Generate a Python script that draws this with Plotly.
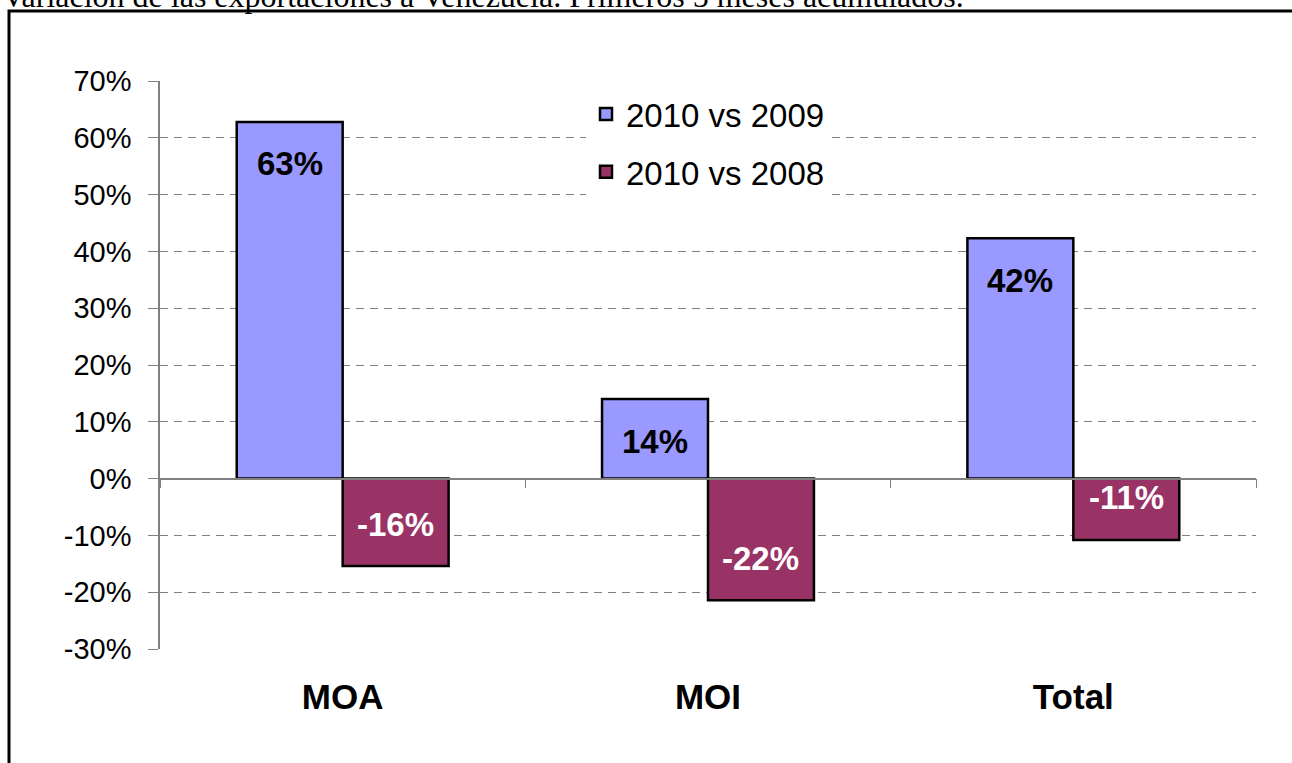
import plotly.graph_objects as go

categories = ["MOA", "MOI", "Total"]
series_names = ["2010 vs 2009", "2010 vs 2008"]
vals_2009 = [0.628, 0.140, 0.423]
vals_2008 = [-0.154, -0.214, -0.108]
label_2009 = ["63%", "14%", "42%"]
label_2008 = ["-16%", "-22%", "-11%"]
y_ticks = [-0.3, -0.2, -0.1, 0, 0.1, 0.2, 0.3, 0.4, 0.5, 0.6, 0.7]
y_tick_text = ["-30%", "-20%", "-10%", "0%", "10%", "20%", "30%", "40%", "50%", "60%", "70%"]
title_text = "Variación de las exportaciones a Venezuela. Primeros 5 meses acumulados."

BLUE = "#9999FF"
RED = "#993366"
FONT = "Liberation Sans, Arial, sans-serif"
BARGAP = 0.42

W, H = 1292, 763

fig = go.Figure()
fig.add_trace(go.Bar(x=categories, y=vals_2009, name=series_names[0],
                     marker=dict(color=BLUE, line=dict(color="black", width=2.5)),
                     legendgroup="a"))
fig.add_trace(go.Bar(x=categories, y=vals_2008, name=series_names[1],
                     marker=dict(color=RED, line=dict(color="black", width=2.5)),
                     legendgroup="b"))
# invisible helper trace to draw the zero-level category axis with boundary ticks
fig.add_trace(go.Scatter(x=categories, y=[0, 0, 0], xaxis="x2", mode="markers",
                         marker=dict(opacity=0), showlegend=False, hoverinfo="skip"))

off = (1 - BARGAP) / 4
annotations = []
for i in range(len(categories)):
    annotations.append(dict(x=i - off, y=vals_2009[i], xref="x", yref="y",
                            text="<b>%s</b>" % label_2009[i], showarrow=False,
                            yshift=-42, font=dict(family=FONT, size=33, color="black")))
    annotations.append(dict(x=i + off, y=vals_2008[i], xref="x", yref="y",
                            text="<b>%s</b>" % label_2008[i], showarrow=False,
                            yshift=42, font=dict(family=FONT, size=33, color="white")))

plot_l, plot_r, plot_t, plot_b = 160, 1256, 81, 649
pw, ph = plot_r - plot_l, plot_b - plot_t

def px_x(p):
    return (p - plot_l) / pw

def px_y(p):
    return 1 - (p - plot_t) / ph

annotations.append(dict(x=px_x(0), y=px_y(16), xref="paper", yref="paper",
                        xanchor="left", yanchor="bottom", showarrow=False,
                        text=title_text,
                        font=dict(family="Liberation Serif, Times New Roman, serif", size=32, color="black")))

shapes = [dict(type="rect", xref="paper", yref="paper",
               x0=px_x(9), x1=px_x(1320), y0=px_y(820), y1=px_y(11),
               line=dict(color="black", width=3), layer="below")]

fig.update_layout(
    width=W, height=H,
    margin=dict(l=plot_l, r=W - plot_r, t=plot_t, b=H - plot_b),
    paper_bgcolor="white", plot_bgcolor="white",
    barmode="group", bargap=BARGAP, bargroupgap=0,
    font=dict(family=FONT, color="black"),
    showlegend=True,
    legend=dict(x=px_x(586), y=px_y(86), xanchor="left", yanchor="top",
                bgcolor="white", font=dict(family=FONT, size=33, color="black"),
                tracegroupgap=12, itemwidth=30),
    xaxis=dict(type="category", categoryorder="array", categoryarray=categories,
               range=[-0.5, 2.5], showgrid=False, showline=False, ticks="",
               ticklabelstandoff=24,
               tickfont=dict(family=FONT, size=35, color="black"),
               tickprefix="<b>", ticksuffix="</b>"),
    xaxis2=dict(type="category", categoryorder="array", categoryarray=categories,
                range=[-0.5, 2.5], overlaying="x", anchor="free", position=0.3,
                side="bottom", showline=True, linecolor="#808080", linewidth=1.5,
                ticks="outside", tickson="boundaries", ticklen=9, tickcolor="#808080",
                showticklabels=False, showgrid=False),
    yaxis=dict(range=[-0.3, 0.7], tickvals=y_ticks, ticktext=y_tick_text,
               showgrid=True, gridcolor="#808080", griddash="8px,6px", gridwidth=1,
               showline=True, linecolor="#808080", linewidth=1.5,
               ticks="outside", ticklen=10, tickcolor="#808080",
               zeroline=False, ticklabelstandoff=11,
               tickfont=dict(family=FONT, size=29, color="black")),
    annotations=annotations, shapes=shapes,
)

fig.write_html("out.html", config={"displayModeBar": False},
               post_script="document.body.style.margin='0';")
